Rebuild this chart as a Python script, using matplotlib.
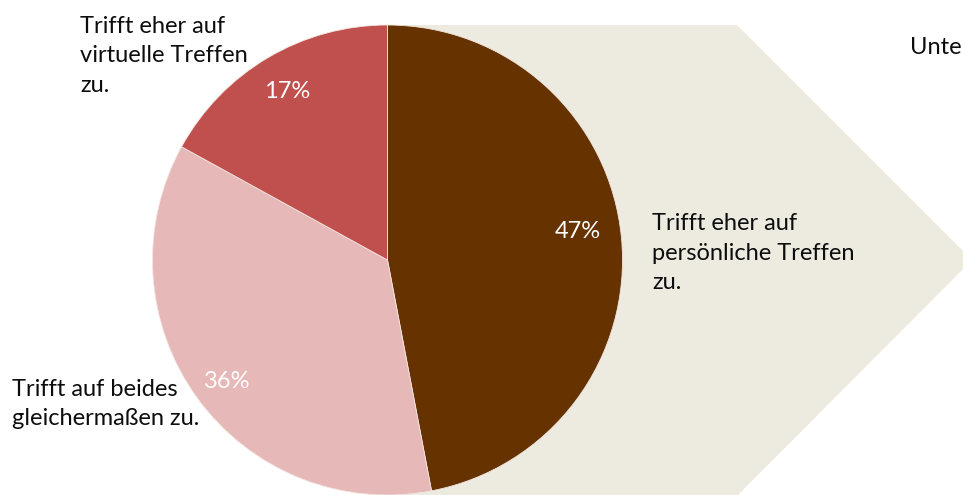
import matplotlib
matplotlib.use("Agg")
import matplotlib.pyplot as plt
from matplotlib.patches import Polygon

# Survey answers and their shares (percent)
categories = [
    "Trifft eher auf\npersönliche Treffen\nzu.",
    "Trifft auf beides\ngleichermaßen zu.",
    "Trifft eher auf\nvirtuelle Treffen\nzu.",
]
shares = [47, 36, 17]
colors = ["#663300", "#E6B8B7", "#C0504D"]
title_text = "Unte"

W, H = 963, 495
plt.rcParams["font.family"] = ["Lato", "DejaVu Sans"]

fig = plt.figure(figsize=(W / 100, H / 100), dpi=100)
ax = fig.add_axes([0, 0, 1, 1])


def py(y):
    # convert a top-down pixel row into axis coordinates
    return H - y


# beige arrow behind the pie
arrow = Polygon(
    [(387, py(25)), (737, py(25)), (972, py(260)), (738, py(495)), (387, py(495))],
    closed=True, facecolor="#EDEAE0", edgecolor="none", zorder=0,
)
ax.add_patch(arrow)

cx, cy, r = 387.5, py(260), 235
ax.pie(
    shares,
    colors=colors,
    startangle=90,
    counterclock=False,
    center=(cx, cy),
    radius=r,
    wedgeprops=dict(edgecolor="#F2E6E0", linewidth=0.6),
    frame=True,
)
ax.set_xlim(0, W)
ax.set_ylim(0, H)
ax.set_aspect("equal")
ax.axis("off")

FS = 17

# category labels (block centres)
label_pos = [(652, 253), (12, 404), (80, 56)]
for text, (x, y) in zip(categories, label_pos):
    ax.text(x, py(y), text, fontsize=FS, color="#0D0D0D",
            ha="left", va="center", linespacing=1.48)

# percentage labels
pct_pos = [(578, 231), (227, 382), (287, 92)]
for v, (x, y) in zip(shares, pct_pos):
    ax.text(x, py(y), f"{v}%", fontsize=FS, color="white",
            ha="center", va="center")

ax.text(910, py(48), title_text, fontsize=FS, color="#0D0D0D",
        ha="left", va="center")

fig.savefig("out.png", dpi=100)
